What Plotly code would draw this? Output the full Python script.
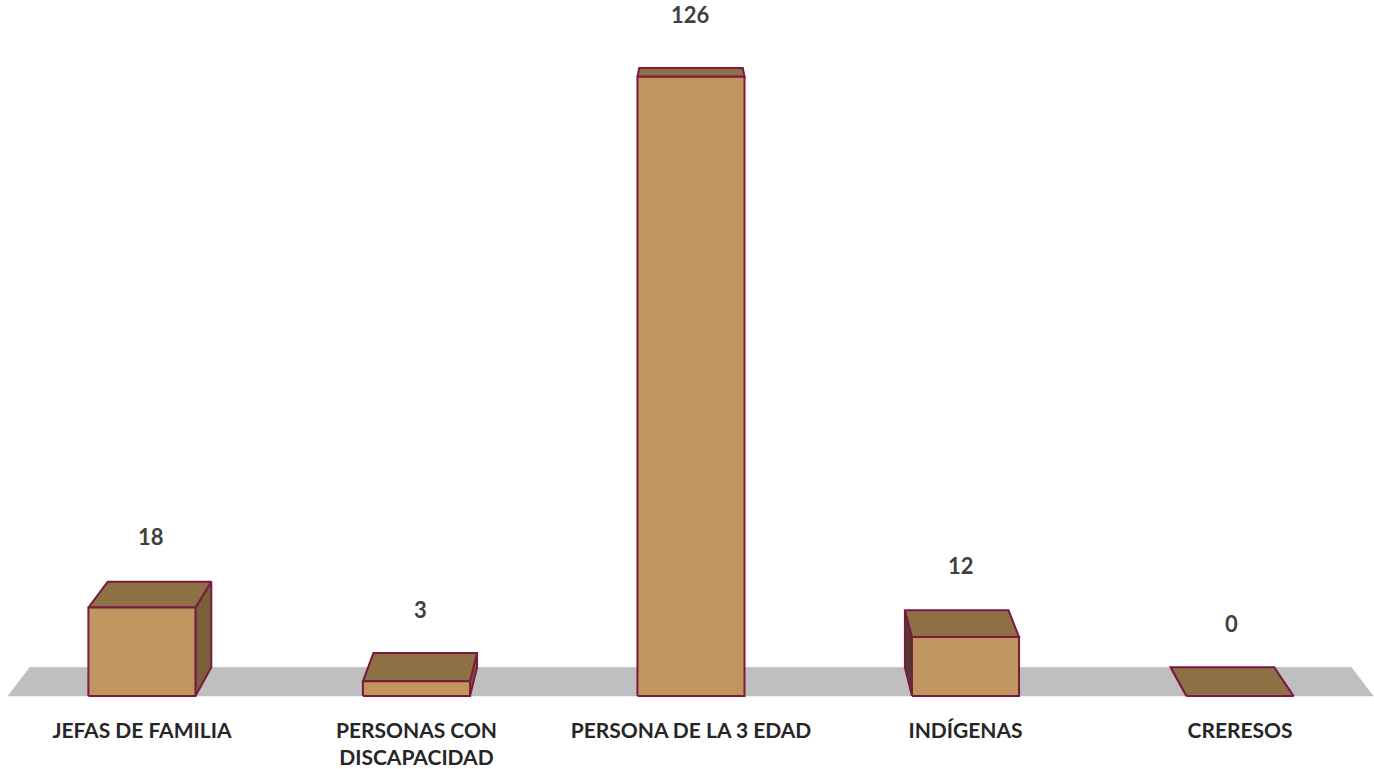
import plotly.graph_objects as go

# ---- data ----
CATEGORIES = ["JEFAS DE FAMILIA", "PERSONAS CON<br>DISCAPACIDAD", "PERSONA DE LA 3 EDAD", "INDÍGENAS", "CRERESOS"]
VALUES = [18, 3, 126, 12, 0]

# ---- perspective / style constants ----
VPX, VPY = 2.0, 182.6      # vanishing point (data units)
K = 0.032                  # depth factor
W = 0.39                   # bar width (category units)
FLOOR_X = (-0.488, 4.485)

FRONT = "#C0965E"
TOP = "#8D7145"
RSIDE = "#7A603A"
LSIDE = "#503E28"
EDGE = "#7B1940"
FLOOR = "#BFBFBF"


def back(x, y):
    return x + K * (VPX - x), y + K * (VPY - y)


def poly(pts, fill, edge=EDGE, width=2):
    xs = [p[0] for p in pts] + [pts[0][0]]
    ys = [p[1] for p in pts] + [pts[0][1]]
    return go.Scatter(x=xs, y=ys, mode="lines", fill="toself", fillcolor=fill,
                      line=dict(color=edge, width=width), hoverinfo="skip",
                      showlegend=False)


fig = go.Figure()

# floor
f0, f1 = FLOOR_X
fig.add_trace(poly([(f0, 0), (f1, 0), back(f1, 0), back(f0, 0)], FLOOR, edge=FLOOR, width=0.5))

annotations = []
for i, v in enumerate(VALUES):
    x0, x1 = i - W / 2, i + W / 2
    if x1 < VPX:
        fig.add_trace(poly([(x1, 0), back(x1, 0), back(x1, v), (x1, v)], RSIDE))
    elif x0 > VPX:
        fig.add_trace(poly([(x0, 0), back(x0, 0), back(x0, v), (x0, v)], LSIDE))
    fig.add_trace(poly([(x0, v), (x1, v), back(x1, v), back(x0, v)], TOP))
    if v > 0:
        fig.add_trace(poly([(x0, 0), (x1, 0), (x1, v), (x0, v)], FRONT))
    bx, by = back(i, v)
    annotations.append(dict(x=(i + bx) / 2, y=(v + by) / 2, text=f"<b>{v}</b>",
                            showarrow=False, yshift=58,
                            font=dict(family="Lato", size=22, color="#404040")))

fig.update_layout(
    width=1374, height=769,
    margin=dict(l=0, r=0, t=10, b=60),
    paper_bgcolor="white", plot_bgcolor="white",
    showlegend=False,
    annotations=annotations,
    xaxis=dict(range=[-0.517, 4.488], tickmode="array",
               tickvals=list(range(len(CATEGORIES))), ticktext=[f"<b>{c}</b>" for c in CATEGORIES],
               showgrid=False, zeroline=False, showline=False, ticks="",
               ticklabelstandoff=9,
               tickfont=dict(family="Lato", size=21, color="#262626"), fixedrange=True),
    yaxis=dict(range=[-2.23, 139.6], visible=False, showgrid=False, zeroline=False,
               fixedrange=True),
)

fig.write_html("out.html", config={"displayModeBar": False},
               post_script="document.body.style.margin='0';document.body.style.overflow='hidden';")
